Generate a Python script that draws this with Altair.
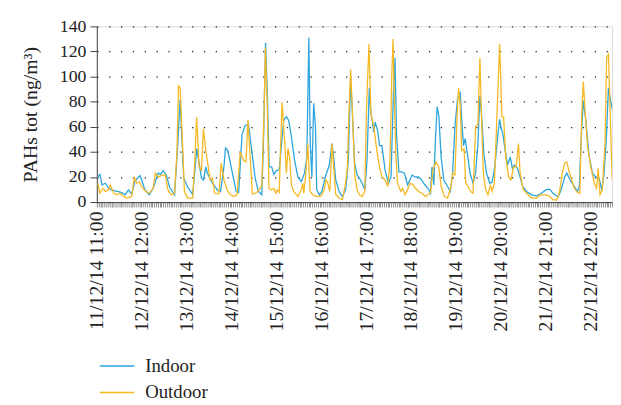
import altair as alt
import pandas as pd

# ---- data (hour index 0 = 11/12/14 11:00) ----
indoor_hours = [0.5, 1.7, 2.9, 4.8, 6.6, 8.4, 10.3, 12.1, 13.9, 15.8, 17.6, 19.4, 21.3, 24.0, 24.9, 26.8, 29.2,
                31.4, 34.1, 35.6, 36.9, 38.7, 40.5, 43.3, 45.1, 46.4, 48.4, 50.6, 53.4, 55.7, 58.3, 59.4, 60.7,
                61.6, 64.4, 67.1, 68.9, 70.8, 71.7, 73.0, 74.4, 76.3, 77.7, 79.0, 80.9, 82.7, 84.5, 86.3, 88.2,
                90.0, 91.9, 92.8, 94.0, 95.0, 96.0, 97.4, 98.6, 100.1, 101.6, 102.9, 104.1, 105.6, 106.9, 108.4,
                110.2, 112.0, 113.9, 115.7, 117.0, 118.1, 118.9, 119.8, 120.8, 121.8, 122.5, 124.0, 125.4, 127.3,
                129.5, 131.0, 131.9, 133.1, 135.0, 136.8, 138.6, 140.1, 141.4, 142.3, 143.6, 145.0, 146.3, 147.8,
                149.3, 150.5, 151.8, 152.7, 153.6, 154.2, 155.1, 156.4, 157.5, 158.8, 160.6, 162.5, 163.9, 165.2,
                166.1, 167.0, 168.3, 169.8, 171.3, 173.1, 174.4, 175.7, 177.1, 179.0, 180.8, 182.6, 184.5, 185.9,
                186.7, 187.7, 188.7, 189.6, 190.5, 191.8, 193.3, 195.4, 196.9, 198.2, 199.5, 201.0, 202.4, 203.3,
                204.3, 205.2, 206.4, 207.9, 209.6, 211.0, 212.3, 213.4, 214.3, 215.6, 217.1, 218.9, 220.2, 221.7,
                223.3, 224.4, 225.3, 226.2, 227.5, 228.8, 230.3, 231.5, 232.6, 234.3, 235.8, 237.2, 239.4, 242.2,
                244.9, 247.7, 250.1, 252.3, 254.1, 256.9, 258.7, 260.6, 261.8, 263.7, 266.0, 267.8, 268.8, 269.7,
                271.0, 272.4, 274.3, 276.1, 277.9, 279.8, 281.3, 282.6, 283.9, 285.0, 286.2, 287.1]
indoor_values = [20, 22, 13.7, 15, 11, 9.7, 9, 8.4, 7.6, 5.8, 9.7, 6.3, 17, 21, 18, 9.7, 5.8,
                 11, 23, 22, 25, 21.6, 12, 5.8, 46, 82, 19, 12, 6, 42.6, 19, 17.5, 28,
                 23, 15, 9.7, 8.4, 28, 43, 41, 31, 17.5, 8.4, 7.6, 54, 61, 62, 41, 19,
                 8.4, 5.8, 46.6, 127, 86, 28, 28, 22, 25, 25.5, 46.6, 65, 68, 65, 52,
                 33, 20, 16.3, 23, 36, 131, 46.6, 20, 78.7, 60, 9.7, 5.8, 8.4, 20,
                 29.5, 46.6, 36, 17.6, 8.4, 4.5, 9.7, 33, 100.5, 73, 31, 21.6, 19, 15,
                 9.7, 33, 91, 70, 63.7, 55.8, 63.7, 57, 45, 45, 25.5, 15, 20, 86,
                 115, 52, 24, 24, 23, 13.7, 17.6, 21.6, 20, 20, 18, 14, 11, 7,
                 28, 13.7, 52, 76, 69, 36, 17.6, 12.4, 8.4, 23, 60, 83, 87, 65,
                 45, 50.5, 38.7, 23, 15, 23, 46.6, 84.7, 70, 38.7, 23, 15, 16, 28,
                 52, 66, 58.4, 54.5, 41, 29.5, 36, 26.8, 29.5, 26.8, 20, 12.4, 8.4, 5.8,
                 5, 7, 9.7, 10.3, 7, 4, 9.7, 20, 23, 17.6, 12.4, 8.4, 12.4, 46.6,
                 80.8, 65, 36, 23, 20, 19, 9.7, 23, 52, 91, 80.8, 74]

outdoor_hours = [0.5, 1.7, 3.3, 4.8, 6.6, 7.5, 9.4, 11.2, 13.0, 14.9, 16.7, 19.4, 20.9, 22.2, 23.7, 24.9, 26.8,
                 29.2, 31.4, 32.6, 34.1, 35.9, 38.1, 39.6, 41.4, 43.3, 44.6, 45.5, 46.4, 47.9, 48.8, 50.6, 53.4,
                 54.6, 55.6, 57.0, 58.3, 59.4, 60.7, 62.0, 63.1, 64.4, 65.6, 68.0, 69.3, 70.8, 72.6, 74.4, 76.3,
                 78.1, 79.9, 81.8, 83.1, 84.2, 85.4, 86.7, 89.1, 91.9, 93.2, 93.9, 95.0, 95.9, 97.4, 98.6, 99.7,
                 100.5, 101.6, 102.3, 103.2, 104.7, 105.6, 106.5, 107.4, 108.4, 109.6, 112.0, 113.9, 114.8, 115.3,
                 116.6, 117.5, 118.8, 120.3, 122.1, 124.8, 126.7, 127.6, 128.5, 129.8, 131.0, 132.2, 133.1, 135.0,
                 136.8, 138.3, 139.6, 140.5, 141.4, 142.7, 143.8, 145.0, 146.3, 147.8, 149.3, 150.2, 151.6, 152.7,
                 154.2, 156.0, 157.5, 158.8, 160.6, 162.1, 163.3, 164.3, 165.0, 165.8, 166.6, 167.5, 169.3, 170.2,
                 171.7, 173.1, 174.4, 176.2, 177.5, 179.3, 181.1, 183.0, 184.5, 185.9, 187.2, 189.0, 190.5, 191.8,
                 193.6, 195.4, 197.3, 198.2, 199.5, 200.6, 201.5, 202.4, 203.3, 204.6, 205.5, 206.8, 208.3, 209.6,
                 211.0, 212.3, 213.4, 214.2, 215.3, 216.6, 217.9, 219.3, 220.2, 221.5, 223.0, 224.4, 225.7, 226.6,
                 227.8, 229.4, 230.7, 232.1, 233.6, 234.9, 235.8, 237.6, 239.4, 242.2, 244.9, 246.8, 249.5, 251.9,
                 254.1, 256.3, 257.8, 259.3, 260.6, 261.8, 263.3, 266.0, 267.8, 269.1, 270.2, 271.0, 272.0, 273.4,
                 275.2, 277.1, 278.4, 279.3, 280.3, 281.6, 283.1, 284.0, 285.0, 286.2, 287.1]
outdoor_values = [15, 7, 11, 8.4, 9.7, 13.7, 7, 5.8, 7, 4.5, 3.2, 4.5, 20, 15, 16, 12.4, 9,
                  7, 11, 23, 20, 21, 21.6, 9.7, 5.8, 7, 38.7, 92.6, 91, 41, 8.4, 3.2, 3.2,
                  33, 67.6, 28, 25.5, 58.4, 41, 29, 17.6, 19, 7, 6.6, 31, 17.6, 9.7, 5.8, 4.5,
                  5.8, 40, 33, 32, 65.5, 36, 6.3, 7.6, 12.4, 73, 123, 73, 11, 9.7, 11, 7,
                  9.7, 7.6, 41, 79.5, 46.6, 23, 42.6, 36, 13.7, 8.4, 4.5, 9.7, 15, 7,
                  25.5, 46.6, 8.4, 5.8, 4.5, 4.5, 9.7, 17.6, 16, 8.4, 46.6, 23, 5.8, 3.2,
                  1.8, 12.4, 28, 73, 105.8, 60, 20, 9.7, 5.8, 4.5, 8.4, 73, 126, 70,
                  61, 41, 28, 20, 17.6, 12.4, 33, 99, 130, 80, 38, 15, 8.4, 11,
                  5.8, 9.7, 15, 13.7, 11, 8.4, 7, 4.5, 5.8, 7.6, 25.5, 32, 28, 12.4,
                  4.5, 3.2, 12.4, 23, 21.6, 65, 91, 78, 41, 42, 15, 12.4, 8.4, 7,
                  60, 62, 115, 73, 23, 9.7, 5.8, 13.7, 8.4, 15, 73, 126, 67.6, 67.6,
                  36, 20, 17.6, 28, 28, 46.6, 23, 9.7, 7, 3.2, 3.2, 5.8, 5.8, 5,
                  1.8, 1.8, 8.4, 23, 31, 32, 23, 11, 7.6, 7, 73, 96, 73, 44,
                  28, 15, 11, 27, 5.8, 9.7, 46.6, 115, 117.6, 60, 17.6]

tick_labels = ["11/12/14 11:00", "12/12/14 12:00", "13/12/14 13:00", "14/12/14 14:00",
               "15/12/14 15:00", "16/12/14 16:00", "17/12/14 17:00", "18/12/14 18:00",
               "19/12/14 19:00", "20/12/14 20:00", "21/12/14 21:00", "22/12/14 22:00"]
series_names = ["Indoor", "Outdoor"]
series_colors = ["#2ba5dd", "#f6b923"]
y_ticks = [0, 20, 40, 60, 80, 100, 120, 140]

df = pd.concat([
    pd.DataFrame({"hour": indoor_hours, "value": indoor_values, "series": series_names[0]}),
    pd.DataFrame({"hour": outdoor_hours, "value": outdoor_values, "series": series_names[1]}),
], ignore_index=True)

label_expr = ("datum.value % 25 == 0 ? [" + ",".join("'" + t + "'" for t in tick_labels)
              + "][datum.value / 25] : ''")

FONT = "Liberation Serif"

chart = alt.Chart(df).mark_line(strokeWidth=1.3, clip=True).encode(
    x=alt.X("hour:Q",
            scale=alt.Scale(domain=[0, 287], nice=False, zero=False),
            axis=alt.Axis(values=list(range(0, 288)), labelExpr=label_expr, labelAngle=270,
                          labelAlign="right", labelBaseline="middle", labelOverlap=False,
                          tickSize=5, tickWidth=0.6, tickColor="#444", domainColor="#444",
                          labelFont=FONT, labelFontSize=20, labelColor="#222", grid=False,
                          title=None, labelPadding=4, labelBound=False, labelFlush=False)),
    y=alt.Y("value:Q",
            scale=alt.Scale(domain=[0, 140], nice=False),
            axis=alt.Axis(values=y_ticks, tickSize=7, tickColor="#444", domainColor="#444",
                          labelFont=FONT, labelFontSize=18, labelColor="#222", labelPadding=4,
                          grid=True, gridDash=[1.3, 10.7], gridColor="#222", gridWidth=1.3,
                          title="PAHs tot (ng/m³)", titleFont=FONT, titleFontSize=20,
                          titleFontWeight="normal", titleColor="#222", titlePadding=19)),
    color=alt.Color("series:N",
                    scale=alt.Scale(domain=series_names, range=series_colors),
                    legend=alt.Legend(title=None, orient="none", legendX=2, legendY=334,
                                      direction="vertical", symbolType="stroke", symbolSize=1225,
                                      symbolStrokeWidth=1.5, labelFont=FONT, labelFontSize=19,
                                      labelColor="#222", clipHeight=20, rowPadding=7,
                                      labelOffset=10, padding=0)),
).properties(
    width=522,
    height=178,
    autosize=alt.AutoSizeParams(type="none"),
    padding={"left": 90, "top": 16, "right": 1, "bottom": 203},
).configure_view(stroke=None).configure(background="white")

chart.save("out.html", embed_options={"renderer": "svg", "actions": False})
